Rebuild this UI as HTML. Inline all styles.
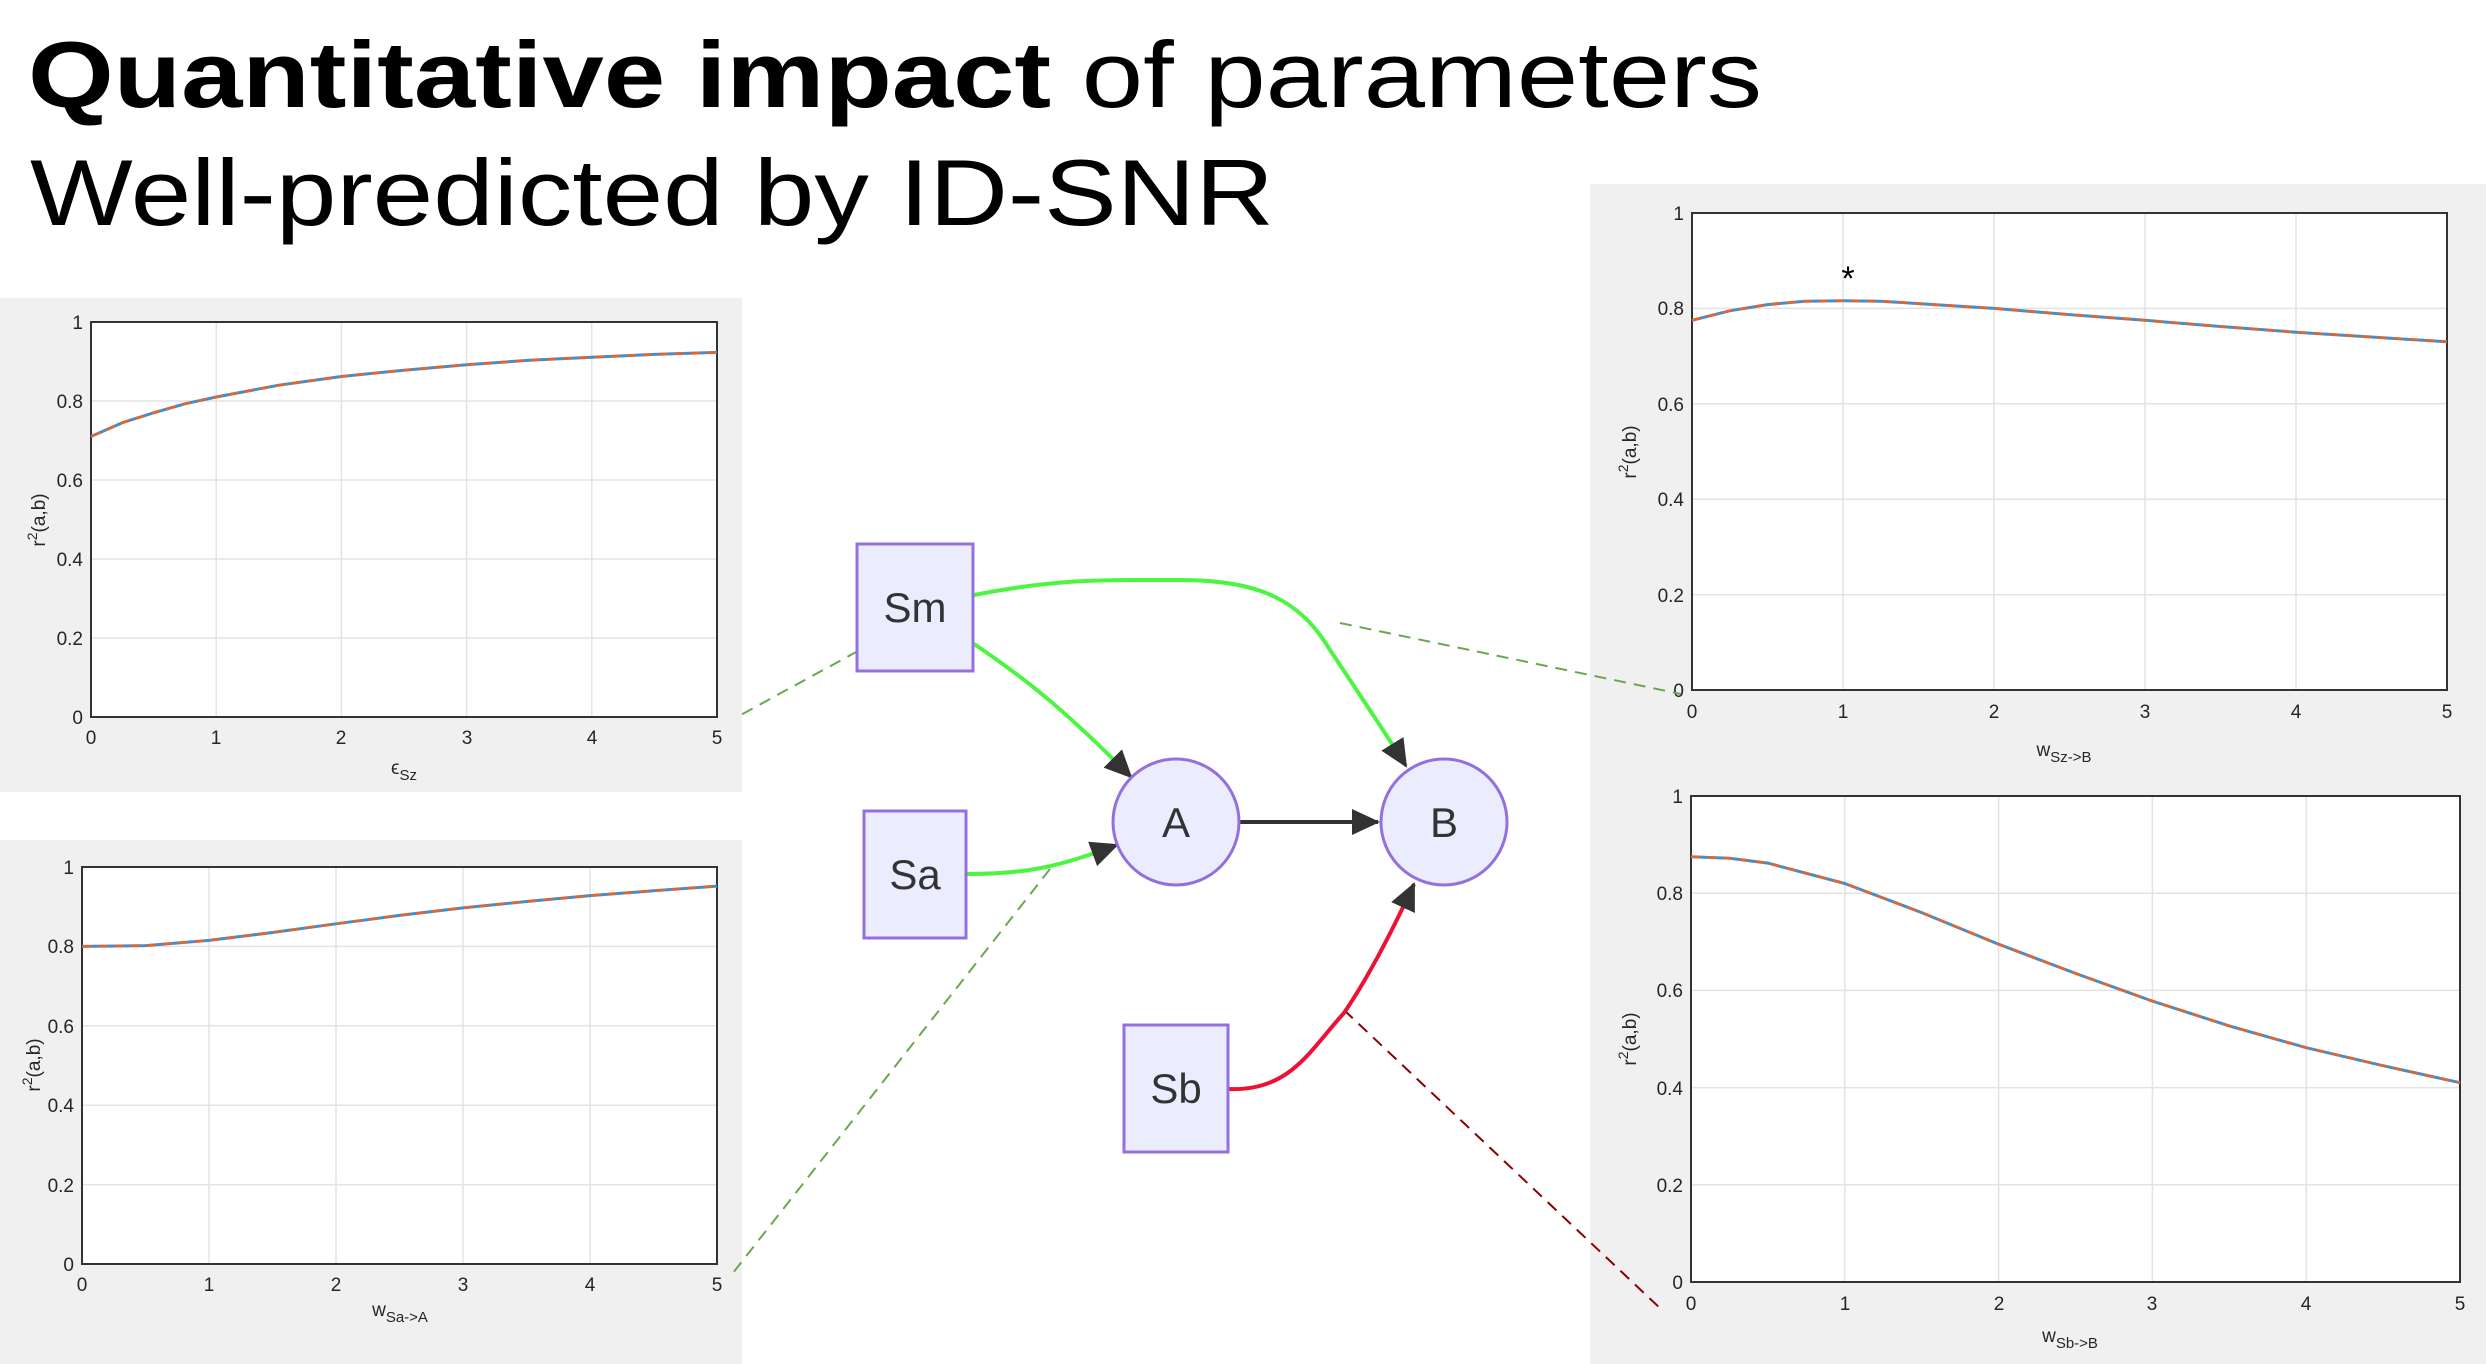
<!DOCTYPE html>
<html><head><meta charset="utf-8"><style>
html,body{margin:0;padding:0;background:#fff;}
svg{display:block;}
.t{font-family:"Liberation Sans",sans-serif;font-size:19px;fill:#262626;}
.g{stroke:#e3e3e3;stroke-width:1.5;fill:none;}
.ax{stroke:#333;stroke-width:2;fill:none;}
.cb{stroke:#3b8fd4;stroke-width:3;fill:none;stroke-linejoin:round;}
.co{stroke:#e2662c;stroke-width:2.5;fill:none;stroke-dasharray:10 6;stroke-linejoin:round;}
.nd{fill:#ECECFF;stroke:#9370DB;stroke-width:3;}
.nt{font-family:"Liberation Sans",sans-serif;font-size:42px;fill:#333;text-anchor:middle;}
</style></head><body>
<svg width="2486" height="1364" viewBox="0 0 2486 1364" xmlns="http://www.w3.org/2000/svg">
<defs>
<marker id="ar" markerUnits="userSpaceOnUse" markerWidth="30" markerHeight="30" refX="26" refY="13" orient="auto"><path d="M0,0 L28,13 L0,26 Z" fill="#333"/></marker>
</defs>
<!-- Title -->
<text x="28" y="107" font-family="Liberation Sans, sans-serif" font-size="94" fill="#000" textLength="1734" lengthAdjust="spacingAndGlyphs"><tspan font-weight="bold">Quantitative impact</tspan> of parameters</text>
<text x="30" y="225" font-family="Liberation Sans, sans-serif" font-size="94" fill="#000" textLength="1244" lengthAdjust="spacingAndGlyphs">Well-predicted by ID-SNR</text>

<!-- Panels -->
<rect x="0" y="298" width="742" height="494" fill="#f0f0f0"/>
<rect x="0" y="840" width="742" height="524" fill="#f0f0f0"/>
<rect x="1590" y="184" width="896" height="590" fill="#f0f0f0"/>
<rect x="1590" y="774" width="896" height="590" fill="#f0f0f0"/>

<!-- P1 -->
<rect x="91" y="322" width="626" height="395" fill="#fff"/>
<path class="g" d="M216.2,322V717M341.4,322V717M466.6,322V717M591.8,322V717M91,638H717M91,559H717M91,480H717M91,401H717"/>
<rect class="ax" x="91" y="322" width="626" height="395"/>
<polyline class="cb" points="91,436.5 122.3,422.7 153.6,412.8 184.9,403.8 216.2,397 278.8,385.2 341.4,376.5 404,370.2 466.6,364.7 529.2,360.3 591.8,357.2 654.4,354.4 717,352.4"/>
<polyline class="co" points="91,436.5 122.3,422.7 153.6,412.8 184.9,403.8 216.2,397 278.8,385.2 341.4,376.5 404,370.2 466.6,364.7 529.2,360.3 591.8,357.2 654.4,354.4 717,352.4"/>
<g class="t" text-anchor="end"><text x="83" y="724">0</text><text x="83" y="645">0.2</text><text x="83" y="566">0.4</text><text x="83" y="487">0.6</text><text x="83" y="408">0.8</text><text x="83" y="329">1</text></g>
<g class="t" text-anchor="middle"><text x="91" y="744">0</text><text x="216" y="744">1</text><text x="341" y="744">2</text><text x="467" y="744">3</text><text x="592" y="744">4</text><text x="717" y="744">5</text>
<text x="404" y="774">ϵ<tspan font-size="15" dy="6">Sz</tspan></text></g>
<text class="t" transform="translate(45,520) rotate(-90)" text-anchor="middle">r<tspan font-size="14" dy="-8">2</tspan><tspan dy="8">(a,b)</tspan></text>

<!-- P2 -->
<rect x="82" y="867" width="635" height="397" fill="#fff"/>
<path class="g" d="M209,867V1264M336,867V1264M463,867V1264M590,867V1264M82,1184.6H717M82,1105.2H717M82,1025.8H717M82,946.4H717"/>
<rect class="ax" x="82" y="867" width="635" height="397"/>
<polyline class="cb" points="82,946.4 145.5,945.6 209,940.4 272.5,932.5 336,923.8 399.5,915.4 463,907.9 526.5,901.5 590,895.6 653.5,890.8 717,886.1"/>
<polyline class="co" points="82,946.4 145.5,945.6 209,940.4 272.5,932.5 336,923.8 399.5,915.4 463,907.9 526.5,901.5 590,895.6 653.5,890.8 717,886.1"/>
<g class="t" text-anchor="end"><text x="74" y="1271">0</text><text x="74" y="1192">0.2</text><text x="74" y="1112">0.4</text><text x="74" y="1033">0.6</text><text x="74" y="953">0.8</text><text x="74" y="874">1</text></g>
<g class="t" text-anchor="middle"><text x="82" y="1291">0</text><text x="209" y="1291">1</text><text x="336" y="1291">2</text><text x="463" y="1291">3</text><text x="590" y="1291">4</text><text x="717" y="1291">5</text>
<text x="400" y="1316">w<tspan font-size="15" dy="6">Sa-&gt;A</tspan></text></g>
<text class="t" transform="translate(40,1065) rotate(-90)" text-anchor="middle">r<tspan font-size="14" dy="-8">2</tspan><tspan dy="8">(a,b)</tspan></text>

<!-- P3 -->
<rect x="1692" y="213" width="755" height="477" fill="#fff"/>
<path class="g" d="M1843,213V690M1994,213V690M2145,213V690M2296,213V690M1692,594.6H2447M1692,499.2H2447M1692,403.8H2447M1692,308.4H2447"/>
<rect class="ax" x="1692" y="213" width="755" height="477"/>
<polyline class="cb" points="1692,320.3 1729.75,310.8 1767.5,304.6 1805.25,301.2 1843,300.8 1880.75,301.2 1918.5,303.6 1994,308.4 2069.5,314.6 2145,320.3 2220.5,326.5 2296,332.2 2371.5,337 2447,341.8"/>
<polyline class="co" points="1692,320.3 1729.75,310.8 1767.5,304.6 1805.25,301.2 1843,300.8 1880.75,301.2 1918.5,303.6 1994,308.4 2069.5,314.6 2145,320.3 2220.5,326.5 2296,332.2 2371.5,337 2447,341.8"/>
<text x="1848" y="290" font-family="Liberation Sans, sans-serif" font-size="34" text-anchor="middle" fill="#000">*</text>
<g class="t" text-anchor="end"><text x="1684" y="697">0</text><text x="1684" y="602">0.2</text><text x="1684" y="506">0.4</text><text x="1684" y="411">0.6</text><text x="1684" y="315">0.8</text><text x="1684" y="220">1</text></g>
<g class="t" text-anchor="middle"><text x="1692" y="718">0</text><text x="1843" y="718">1</text><text x="1994" y="718">2</text><text x="2145" y="718">3</text><text x="2296" y="718">4</text><text x="2447" y="718">5</text>
<text x="2064" y="756">w<tspan font-size="15" dy="6">Sz-&gt;B</tspan></text></g>
<text class="t" transform="translate(1636,452) rotate(-90)" text-anchor="middle">r<tspan font-size="14" dy="-8">2</tspan><tspan dy="8">(a,b)</tspan></text>

<!-- P4 -->
<rect x="1691" y="796" width="769" height="486" fill="#fff"/>
<path class="g" d="M1844.8,796V1282M1998.6,796V1282M2152.4,796V1282M2306.2,796V1282M1691,1184.8H2460M1691,1087.6H2460M1691,990.4H2460M1691,893.2H2460"/>
<rect class="ax" x="1691" y="796" width="769" height="486"/>
<polyline class="cb" points="1691,856.7 1729.5,858.2 1767.9,863.1 1844.8,883.5 1921.7,912.6 1998.6,944.2 2075.5,973.4 2152.4,1001.1 2229.3,1025.9 2306.2,1047.7 2383.1,1065.7 2460,1082.7"/>
<polyline class="co" points="1691,856.7 1729.5,858.2 1767.9,863.1 1844.8,883.5 1921.7,912.6 1998.6,944.2 2075.5,973.4 2152.4,1001.1 2229.3,1025.9 2306.2,1047.7 2383.1,1065.7 2460,1082.7"/>
<g class="t" text-anchor="end"><text x="1683" y="1289">0</text><text x="1683" y="1192">0.2</text><text x="1683" y="1095">0.4</text><text x="1683" y="997">0.6</text><text x="1683" y="900">0.8</text><text x="1683" y="803">1</text></g>
<g class="t" text-anchor="middle"><text x="1691" y="1310">0</text><text x="1845" y="1310">1</text><text x="1999" y="1310">2</text><text x="2152" y="1310">3</text><text x="2306" y="1310">4</text><text x="2460" y="1310">5</text>
<text x="2070" y="1342">w<tspan font-size="15" dy="6">Sb-&gt;B</tspan></text></g>
<text class="t" transform="translate(1636,1039) rotate(-90)" text-anchor="middle">r<tspan font-size="14" dy="-8">2</tspan><tspan dy="8">(a,b)</tspan></text>

<!-- Dashed connectors -->
<g fill="none" stroke-width="2" stroke-dasharray="12 8">
<path d="M858,651 L737,717" stroke="#6aa84f"/>
<path d="M1340,623 L1681,694" stroke="#6aa84f"/>
<path d="M1050,869 L729,1278" stroke="#6aa84f"/>
<path d="M1344,1010 L1662,1310" stroke="#8b0000"/>
</g>

<!-- Edges -->
<g fill="none" stroke-width="4">
<path d="M974,595 C1060,578 1110,580 1179,580 C1260,580 1300,600 1330,650 C1360,695 1390,740 1406,766" stroke="#4cf542" marker-end="url(#ar)"/>
<path d="M974,644 C1020,675 1060,705 1131,777" stroke="#4cf542" marker-end="url(#ar)"/>
<path d="M967,874 C1030,874 1060,866 1117,845" stroke="#4cf542" marker-end="url(#ar)"/>
<path d="M1228,1089 C1290,1092 1310,1050 1344,1013 C1370,975 1395,925 1414,884" stroke="#ee1133" marker-end="url(#ar)"/>
<path d="M1240,822 L1378,822" stroke="#333" marker-end="url(#ar)"/>
</g>

<!-- Nodes -->
<rect class="nd" x="857" y="544" width="116" height="127"/>
<text class="nt" x="915" y="622">Sm</text>
<rect class="nd" x="864" y="811" width="102" height="127"/>
<text class="nt" x="915" y="889">Sa</text>
<rect class="nd" x="1124" y="1025" width="104" height="127"/>
<text class="nt" x="1176" y="1103">Sb</text>
<circle class="nd" cx="1176" cy="822" r="63"/>
<text class="nt" x="1176" y="837">A</text>
<circle class="nd" cx="1444" cy="822" r="63"/>
<text class="nt" x="1444" y="837">B</text>
</svg>
</body></html>
